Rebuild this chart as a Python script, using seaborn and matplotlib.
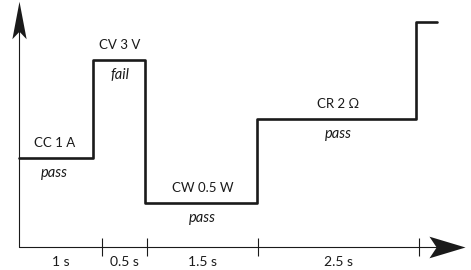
import matplotlib
matplotlib.use("Agg")
import matplotlib.pyplot as plt
import pandas as pd
import seaborn as sns
from matplotlib.path import Path

# schematic time positions of the step edges (not to scale, as drawn)
step_x = [0, 0.89, 1.52, 2.87, 4.78, 5.04]
step_level = [89, 187, 44, 128, 225, 225]

# tick positions on the time axis and the duration labels between them
tick_x = [0, 1.0, 1.54, 2.88, 4.82]
durations = ["1 s", "0.5 s", "1.5 s", "2.5 s"]

# mode label and verdict for each step
modes = ["CC 1 A", "CV 3 V", "CW 0.5 W", "CR 2 Ω"]
verdicts = ["pass", "fail", "pass", "pass"]
mode_x = [0.43, 1.21, 2.21, 3.85]

sns.set_theme(style="white")
plt.rcParams["font.family"] = ["Lato", "DejaVu Sans"]
ink = "#1a1a1a"

fig = plt.figure(figsize=(4.71, 2.70), dpi=100)
ax = fig.add_axes([0, 0, 1, 1])
ax.set_xlim(-19 / 83, 452 / 83)
ax.set_ylim(-23, 247)
ax.axis("off")

df = pd.DataFrame({"t": step_x, "level": step_level})
sns.lineplot(data=df, x="t", y="level", drawstyle="steps-post",
             color=ink, lw=1.9, ax=ax, legend=False)

# axes lines, ticks and barbed arrow heads
ax.plot([0, 0], [0, 225], color=ink, lw=0.8)
ax.plot([0, 5.2], [0, 0], color=ink, lw=0.8)
ax.vlines(tick_x[1:], -9, 9, color=ink, lw=0.8)

head_up = Path([(0, 1), (0.38, -1), (0, -0.6), (-0.38, -1), (0, 1)],
               [Path.MOVETO, Path.LINETO, Path.LINETO, Path.LINETO, Path.CLOSEPOLY])
head_right = Path([(1, 0), (-1, 0.6), (-0.6, 0), (-1, -0.6), (1, 0)],
                  [Path.MOVETO, Path.LINETO, Path.LINETO, Path.LINETO, Path.CLOSEPOLY])
ax.plot([0], [227], marker=head_up, markersize=27, color=ink, mew=0)
ax.plot([5.16], [0], marker=head_right, markersize=26, color=ink, mew=0)

for i, lab in enumerate(durations):
    xm = (tick_x[i] + tick_x[i + 1]) / 2
    ax.text(xm, -15, lab, ha="center", va="center", fontsize=10, color=ink)

for i, (m, v) in enumerate(zip(modes, verdicts)):
    lvl = step_level[i]
    ax.text(mode_x[i], lvl + 15, m, ha="center", va="center", fontsize=9.5,
            color=ink)
    ax.text(mode_x[i], lvl - 15, v, ha="center", va="center", fontsize=10.5,
            style="italic", color=ink)

fig.savefig("out.png", dpi=100)
